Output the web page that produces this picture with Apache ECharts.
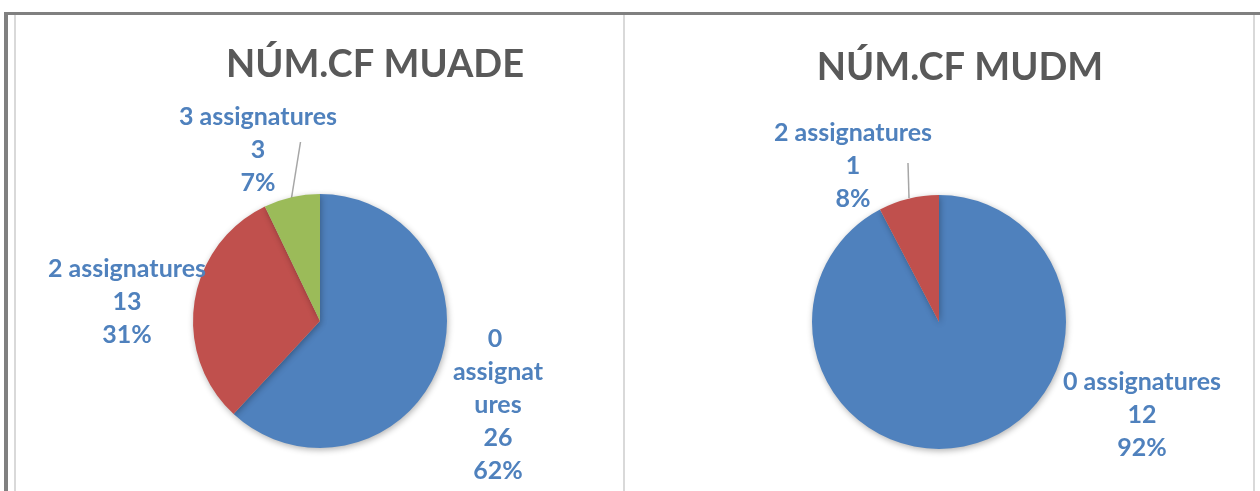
<!DOCTYPE html>
<html><head><meta charset="utf-8">
<script src="https://cdn.jsdelivr.net/npm/echarts@6/dist/echarts.min.js"></script>
<style>html,body{margin:0;padding:0;background:#fff}#c{width:1260px;height:491px}</style>
</head><body><div id="c"></div>
<script>
const titles = ['NÚM.CF MUADE', 'NÚM.CF MUDM'];
const categoriesMuade = ['0 assignatures', '2 assignatures', '3 assignatures'];
const valuesMuade = [26, 13, 3];
const categoriesMudm = ['0 assignatures', '2 assignatures'];
const valuesMudm = [12, 1];

const sliceColors = ['#4f81bd', '#c0504d', '#9bbb59'];
const labelColor = '#4f81bd';
const FONT = 'Lato';

// label centre positions and leader lines (layout only)
const labelPos = [
  [[498, 405], [127, 302], [258, 150]],
  [[1142, 415], [853, 166]]
];
const leaderLines = [
  [null, null, [[300.5, 142], [300.5, 142], [291.5, 198]]],
  [null, [[908, 163], [908, 163], [909, 198]]]
];
const wrapWidth = [[96, null, null], [null, null]];

function buildData(cats, vals, s) {
  return cats.map((name, i) => {
    const item = {
      name, value: vals[i],
      itemStyle: { color: sliceColors[i] },
      labelLine: { show: !!leaderLines[s][i] }
    };
    if (wrapWidth[s][i]) item.label = { width: wrapWidth[s][i], overflow: 'break' };
    return item;
  });
}

function pieSeries(cats, vals, s, center) {
  return {
    type: 'pie',
    center, radius: 127,
    startAngle: 90, clockwise: true,
    percentPrecision: 0,
    animation: false,
    itemStyle: {
      borderWidth: 0,
      shadowBlur: 6, shadowColor: 'rgba(0,0,0,0.3)', shadowOffsetX: 1, shadowOffsetY: 2
    },
    emphasis: { disabled: true },
    label: {
      show: true, position: 'outside',
      formatter: '{b}\n{c}\n{d}%',
      color: labelColor, fontFamily: FONT, fontWeight: 'bold', fontSize: 25,
      lineHeight: 33, align: 'center'
    },
    labelLine: { show: true, lineStyle: { color: '#a6a6a6', width: 1.5 }, length: 10, length2: 0 },
    labelLayout: function (p) {
      const pos = labelPos[s][p.dataIndex];
      const out = { x: pos[0], y: pos[1], align: 'center', verticalAlign: 'middle' };
      const ln = leaderLines[s][p.dataIndex];
      if (ln) out.labelLinePoints = ln;
      return out;
    },
    data: buildData(cats, vals, s)
  };
}

const chart = echarts.init(document.getElementById('c'), null, { renderer: 'canvas' });
chart.setOption({
  backgroundColor: '#ffffff',
  animation: false,
  title: [
    { text: titles[0], left: 375, top: 46, textAlign: 'center', padding: 0,
      textStyle: { fontFamily: FONT, fontWeight: 'bold', fontSize: 38, color: '#595959' } },
    { text: titles[1], left: 960, top: 49, textAlign: 'center', padding: 0,
      textStyle: { fontFamily: FONT, fontWeight: 'bold', fontSize: 38, color: '#595959' } }
  ],
  graphic: [
    { type: 'line', z: -1, shape: { x1: 15, y1: 15, x2: 15, y2: 491 }, style: { stroke: '#d9d9d9', lineWidth: 2 } },
    { type: 'line', z: -1, shape: { x1: 624, y1: 15, x2: 624, y2: 491 }, style: { stroke: '#d9d9d9', lineWidth: 2 } },
    { type: 'line', z: -1, shape: { x1: 1254, y1: 15, x2: 1254, y2: 491 }, style: { stroke: '#d9d9d9', lineWidth: 2 } },
    { type: 'line', z: 10, shape: { x1: 4, y1: 13.5, x2: 1260, y2: 13.5 }, style: { stroke: '#808080', lineWidth: 3 } },
    { type: 'line', z: 10, shape: { x1: 6, y1: 12, x2: 6, y2: 491 }, style: { stroke: '#808080', lineWidth: 4 } }
  ],
  series: [
    pieSeries(categoriesMuade, valuesMuade, 0, [320, 321]),
    pieSeries(categoriesMudm, valuesMudm, 1, [939, 322])
  ]
});
</script></body></html>
